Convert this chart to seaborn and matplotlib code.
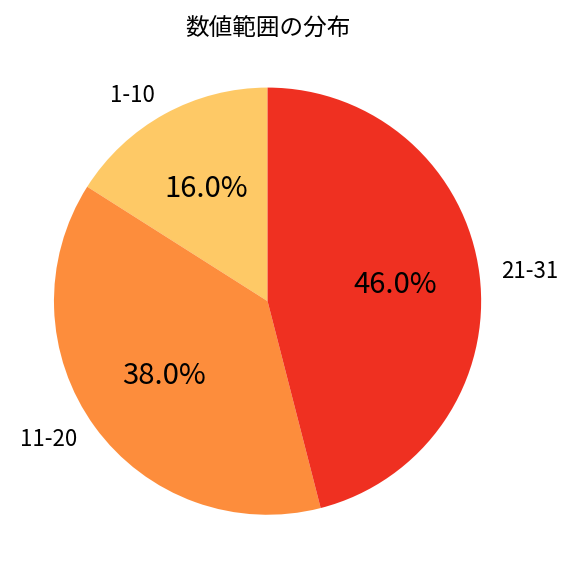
import matplotlib
matplotlib.use("Agg")
import matplotlib.pyplot as plt
import seaborn as sns

categories = ["1-10", "11-20", "21-31"]
values = [16.0, 38.0, 46.0]
colors = ["#FEC966", "#FD8D3C", "#EF3021"]

sns.set_theme(style="white")
plt.rcParams['font.family'] = ['Noto Sans CJK JP', 'DejaVu Sans']
plt.rcParams['text.color'] = 'black'

fig, ax = plt.subplots(figsize=(5.76, 5.76), dpi=100)
wedges, texts, autotexts = ax.pie(values, labels=categories, colors=colors,
                                  autopct='%1.1f%%', startangle=90,
                                  wedgeprops={'linewidth': 0, 'edgecolor': 'none'},
                                  textprops={'fontsize': 16, 'color': 'black'})
for t in autotexts:
    t.set_fontsize(21)
ax.set_title("数値範囲の分布", fontsize=17, color='black')
ax.axis('equal')
plt.tight_layout()
fig.savefig("out.png", dpi=100)
